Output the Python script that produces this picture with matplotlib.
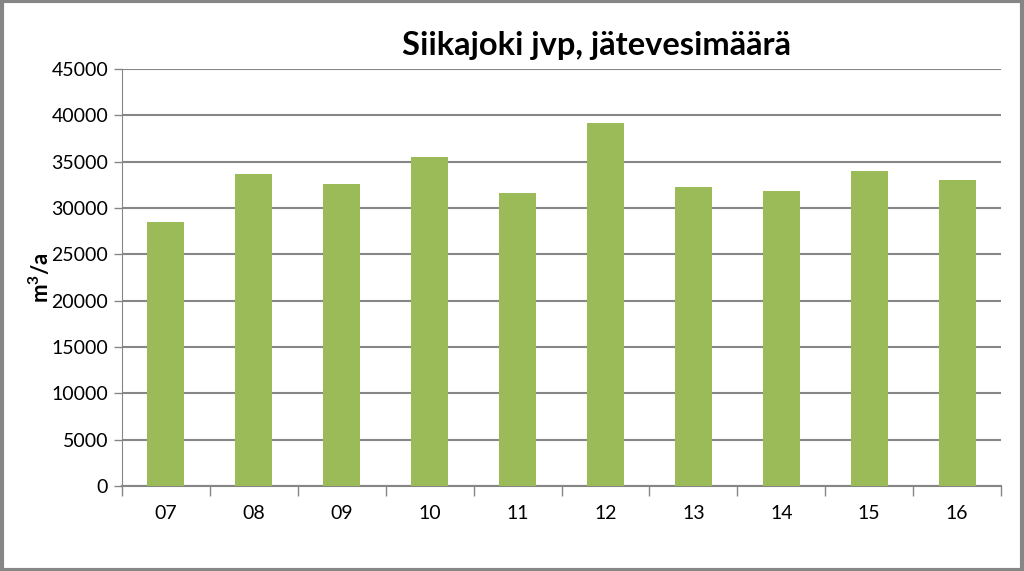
import matplotlib
matplotlib.use("Agg")
import matplotlib.pyplot as plt
from matplotlib.patches import Rectangle
import numpy as np

categories = ["07", "08", "09", "10", "11", "12", "13", "14", "15", "16"]
values = [28450, 33700, 32550, 35450, 31600, 39200, 32250, 31850, 34000, 33050]
yticks = [0, 5000, 10000, 15000, 20000, 25000, 30000, 35000, 40000, 45000]

plt.rcParams['font.family'] = ['Lato', 'DejaVu Sans']
plt.rcParams['mathtext.fontset'] = 'custom'
plt.rcParams['mathtext.rm'] = 'Lato:bold'
plt.rcParams['mathtext.it'] = 'Lato:bold'
plt.rcParams['mathtext.bf'] = 'Lato:bold'

fig = plt.figure(figsize=(10.24, 5.71), dpi=100)
ax = fig.add_axes([122/1024, 1-486/571, (1001-122)/1024, (486-69)/571])

x = np.arange(len(categories))
ax.bar(x, values, width=0.42, color="#9BBB59", zorder=3)

ax.set_xlim(-0.5, len(categories)-0.5)
ax.set_ylim(0, 45000)
ax.set_yticks(yticks)
ax.set_yticklabels([str(v) for v in yticks], fontsize=14)
ax.set_xticks(x)
ax.set_xticklabels(categories, fontsize=14)
ax.tick_params(axis='x', length=0, pad=14)
ax.set_xticks(np.arange(-0.5, len(categories)), minor=True)
ax.tick_params(axis='x', which='minor', length=7, color="#868686", width=1)
ax.tick_params(axis='y', length=6, color="#868686", width=1, pad=4)

ax.grid(axis='y', color="#868686", linewidth=1.5, zorder=0)
for s in ['top', 'right']:
    ax.spines[s].set_visible(False)
ax.spines['left'].set_color("#868686")
ax.spines['bottom'].set_color("#868686")
ax.spines['bottom'].set_linewidth(1.5)

fig.text(40/1024, 1-278/571, r"m$^{\mathbf{3}}$/a", rotation=90, fontsize=16,
         fontweight='bold', ha='center', va='center')
fig.text(596/1024, 1-46/571, "Siikajoki jvp, jätevesimäärä", fontsize=23.5,
         fontweight='bold', ha='center', va='center')

fig.patches.append(Rectangle((0.0015, 0.0025), 0.997, 0.995, transform=fig.transFigure,
                             fill=False, edgecolor="#868686", linewidth=3))

fig.savefig("out.png", dpi=100)
